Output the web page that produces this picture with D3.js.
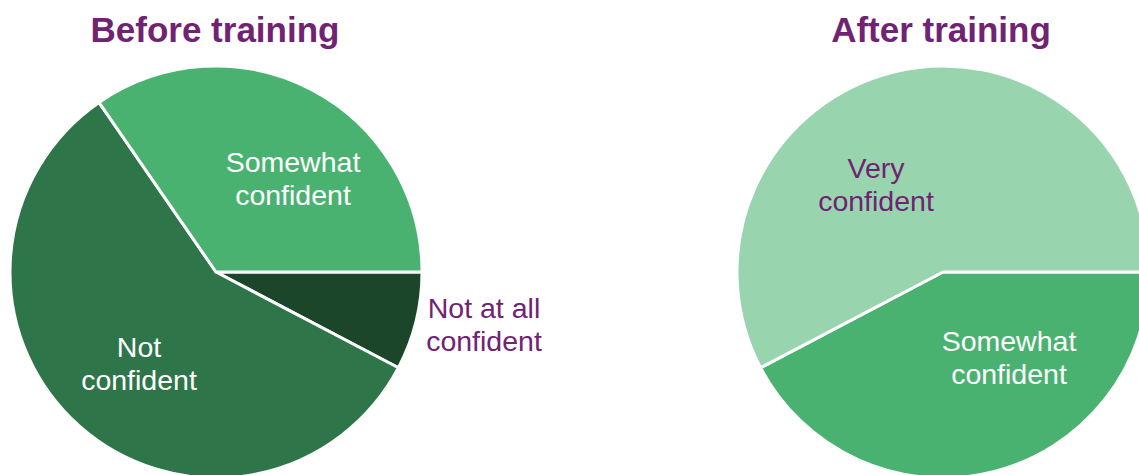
<!DOCTYPE html>
<html>
<head>
<meta charset="utf-8">
<script src="https://cdn.jsdelivr.net/npm/d3@7"></script>
<style>
  html, body { margin: 0; padding: 0; background: #fff; overflow: hidden; }
  svg { display: block; }
  text { font-family: "Liberation Sans", Arial, sans-serif; }
</style>
</head>
<body>
<svg id="chart" width="1139" height="475"></svg>
<script>
// ---- data (respondent counts) ----
const titles = ["Before training", "After training"];
const beforeCategories = ["Not at all confident", "Not confident", "Somewhat confident"];
const beforeValues = [2, 15, 9];
const afterCategories = ["Somewhat confident", "Very confident"];
const afterValues = [11, 15];
const beforeLabels = [["Not at all", "confident"], ["Not", "confident"], ["Somewhat", "confident"]];
const afterLabels = [["Somewhat", "confident"], ["Very", "confident"]];

// ---- styles / layout ----
const colorMap = {
  "Not at all confident": "#1B462A",
  "Not confident": "#2E754A",
  "Somewhat confident": "#4AB270",
  "Very confident": "#98D5AF"
};
const labelColor = {
  "Not at all confident": "#702373",
  "Not confident": "#ffffff",
  "Somewhat confident": "#ffffff",
  "Very confident": "#702373"
};
const purple = "#702373";
const radius = 206;
const lineGap = 33;

// label first-line baseline offset relative to pie centre
const beforeLabelOffsets = [[268, 46], [-77, 85], [77, -100]];
const afterLabelOffsets = [[66, 79], [-67, -94]];

const charts = [
  { title: titles[0], cats: beforeCategories, vals: beforeValues, labels: beforeLabels, offs: beforeLabelOffsets, cx: 216, cy: 272, titleX: 215 },
  { title: titles[1], cats: afterCategories, vals: afterValues, labels: afterLabels, offs: afterLabelOffsets, cx: 943, cy: 272, titleX: 941 }
];

const svg = d3.select("#chart");
const pie = d3.pie().sort(null).startAngle(Math.PI / 2).endAngle(Math.PI / 2 + 2 * Math.PI);
const arc = d3.arc().innerRadius(0).outerRadius(radius);

charts.forEach(c => {
  const data = c.cats.map((k, i) => ({ cat: k, value: c.vals[i], label: c.labels[i], off: c.offs[i] }));
  const arcs = pie.value(d => d.value)(data);
  const g = svg.append("g").attr("transform", `translate(${c.cx},${c.cy})`);

  g.selectAll("path.slice")
    .data(arcs)
    .join("path")
    .attr("class", "slice")
    .attr("d", arc)
    .attr("fill", d => colorMap[d.data.cat])
    .attr("stroke", "#ffffff")
    .attr("stroke-width", 3)
    .attr("stroke-linejoin", "round");

  const lbl = g.selectAll("text.lbl")
    .data(arcs)
    .join("text")
    .attr("class", "lbl")
    .attr("text-anchor", "middle")
    .attr("font-size", "28.5px")
    .attr("fill", d => labelColor[d.data.cat])
    .attr("x", d => d.data.off[0])
    .attr("y", d => d.data.off[1]);
  lbl.each(function(d) {
    const t = d3.select(this);
    d.data.label.forEach((line, i) => {
      t.append("tspan")
        .attr("x", d.data.off[0])
        .attr("y", d.data.off[1] + i * lineGap)
        .text(line);
    });
  });

  svg.append("text")
    .attr("x", c.titleX)
    .attr("y", 42)
    .attr("text-anchor", "middle")
    .attr("font-size", "35px")
    .attr("font-weight", "bold")
    .attr("fill", purple)
    .text(c.title);
});
</script>
</body>
</html>
